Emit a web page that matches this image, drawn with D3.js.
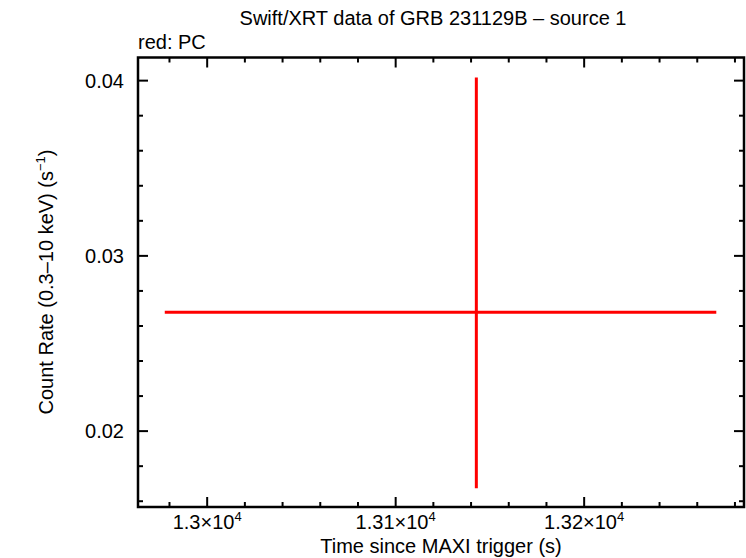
<!DOCTYPE html>
<html><head><meta charset="utf-8">
<script src="https://cdn.jsdelivr.net/npm/d3@7"></script>
<style>body{margin:0;background:#fff}svg{display:block}text{font-family:"Liberation Sans",Arial,sans-serif;fill:#000}</style>
</head><body>
<script>
// data
const times = [13142.8];
const timeErrLo = [165.3];
const timeErrHi = [127.3];
const rates = [0.02678];
const rateErrHi = [0.0134];
const rateErrLo = [0.01004];
const xMajorTicks = [13000, 13100, 13200];
const xTickMantissa = ["1.3", "1.31", "1.32"];
const yMajorTicks = [0.02, 0.03, 0.04];
const yTickLabels = ["0.02", "0.03", "0.04"];

const W = 746, H = 558;
const L = 138, R = 744, T = 57.5, B = 507;
const FS = 20, SUP = 13;
const svg = d3.select("body").append("svg").attr("width", W).attr("height", H);
const x = d3.scaleLinear().domain([12963.3, 13284.8]).range([L, R]);
const y = d3.scaleLinear().domain([0.01567, 0.04132]).range([B, T]);

// ticks
const xMinor = d3.range(12960, 13290, 20).filter(v => x(v) > L + 1 && x(v) < R - 1);
const yMinor = d3.range(0.016, 0.0414, 0.002).filter(v => y(v) > T + 1 && y(v) < B - 1);
const g = svg.append("g").attr("stroke", "#000").attr("stroke-width", 2);
xMinor.forEach(v => {
  const isMaj = xMajorTicks.some(m => Math.abs(m - v) < 1e-6);
  const len = isMaj ? 10 : 5;
  g.append("line").attr("x1", x(v)).attr("x2", x(v)).attr("y1", B).attr("y2", B - len);
  g.append("line").attr("x1", x(v)).attr("x2", x(v)).attr("y1", T).attr("y2", T + len);
});
yMinor.forEach(v => {
  const isMaj = yMajorTicks.some(m => Math.abs(m - v) < 1e-6);
  const len = isMaj ? 10 : 5;
  g.append("line").attr("y1", y(v)).attr("y2", y(v)).attr("x1", L).attr("x2", L + len);
  g.append("line").attr("y1", y(v)).attr("y2", y(v)).attr("x1", R).attr("x2", R - len);
});
svg.append("rect").attr("x", L).attr("y", T).attr("width", R - L).attr("height", B - T)
  .attr("fill", "none").attr("stroke", "#000").attr("stroke-width", 2.5);

// tick labels
xMajorTicks.forEach((v, i) => {
  const t = svg.append("text").attr("x", x(v)).attr("y", 529).attr("text-anchor", "middle").attr("font-size", FS);
  t.append("tspan").text(xTickMantissa[i] + "×10");
  t.append("tspan").text("4").attr("font-size", SUP).attr("dy", -8);
});
yMajorTicks.forEach((v, i) => {
  svg.append("text").attr("x", 124).attr("y", y(v) + 7).attr("text-anchor", "end").attr("font-size", FS).text(yTickLabels[i]);
});

// data
const d = svg.append("g").attr("stroke", "#ff0000").attr("stroke-width", 3);
times.forEach((t, i) => {
  d.append("line").attr("x1", x(t - timeErrLo[i])).attr("x2", x(t + timeErrHi[i])).attr("y1", y(rates[i])).attr("y2", y(rates[i]));
  d.append("line").attr("x1", x(t)).attr("x2", x(t)).attr("y1", y(rates[i] - rateErrLo[i])).attr("y2", y(rates[i] + rateErrHi[i]));
});

// titles
svg.append("text").attr("x", 433).attr("y", 25).attr("text-anchor", "middle").attr("font-size", FS).text("Swift/XRT data of GRB 231129B – source 1");
svg.append("text").attr("x", 138).attr("y", 49).attr("font-size", FS).text("red: PC");
svg.append("text").attr("x", 441).attr("y", 553).attr("text-anchor", "middle").attr("font-size", FS).text("Time since MAXI trigger (s)");
const yl = svg.append("text").attr("transform", "translate(53,282) rotate(-90)").attr("text-anchor", "middle").attr("font-size", FS);
yl.append("tspan").text("Count Rate (0.3–10 keV) (s");
yl.append("tspan").text("−1").attr("font-size", SUP).attr("dy", -8);
yl.append("tspan").text(")").attr("dy", 8).attr("font-size", FS);
</script>
</body></html>
